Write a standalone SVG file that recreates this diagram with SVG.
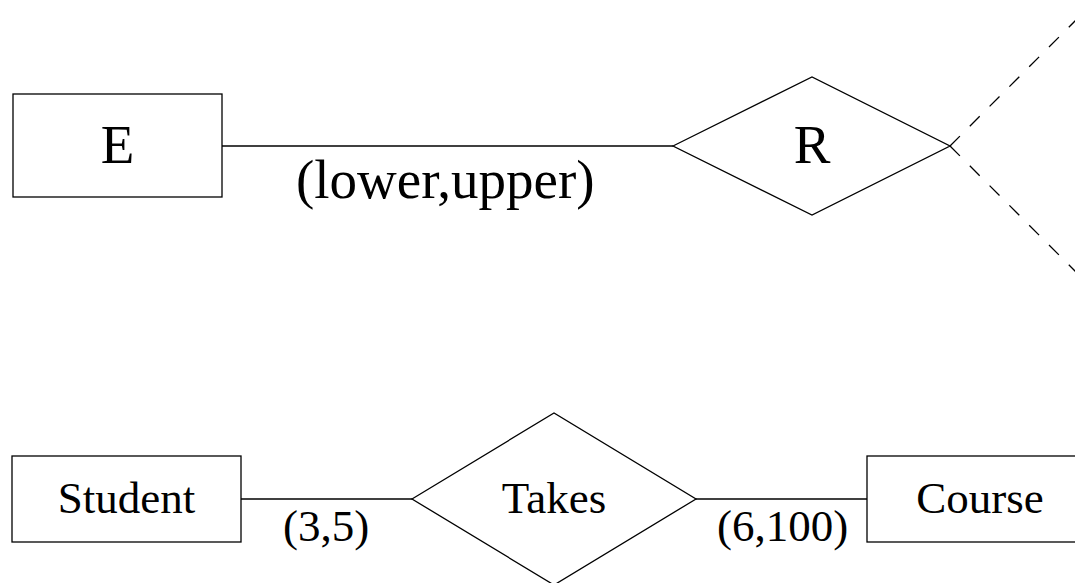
<svg xmlns="http://www.w3.org/2000/svg" width="1075" height="583" viewBox="0 0 1075 583">
  <style>
    .shape { fill: #ffffff; stroke: #000000; stroke-width: 1.3; }
    .link { fill: none; stroke: #000000; stroke-width: 1.3; }
    .dash { fill: none; stroke: #000000; stroke-width: 1.3; stroke-dasharray: 14 14; }
    .big { font-family: "Liberation Serif", "Times New Roman", serif; font-size: 55px; fill: #000000; }
    .small { font-family: "Liberation Serif", "Times New Roman", serif; font-size: 45px; fill: #000000; }
  </style>
  <rect width="1075" height="583" fill="#ffffff"/>

  <!-- connectors -->
  <g id="connectors">
    <line class="link" x1="222" y1="146" x2="673" y2="146"/>
    <line class="dash" x1="950" y1="146" x2="1085" y2="11"/>
    <line class="dash" x1="950" y1="146" x2="1085" y2="281"/>
    <line class="link" x1="241" y1="499" x2="412" y2="499"/>
    <line class="link" x1="696" y1="499" x2="867" y2="499"/>
    <text class="big" x="296" y="198">(lower,upper)</text>
    <text class="small" x="283" y="541">(3,5)</text>
    <text class="small" x="717" y="541">(6,100)</text>
  </g>

  <!-- entity E -->
  <g id="node-E">
    <rect class="shape" x="13" y="94" width="209" height="103"/>
    <text class="big" x="117.5" y="163" text-anchor="middle">E</text>
  </g>

  <!-- relationship R -->
  <g id="node-R">
    <polygon class="shape" points="673,146 812,77 950,146 812,215"/>
    <text class="big" x="812" y="163" text-anchor="middle">R</text>
  </g>

  <!-- entity Student -->
  <g id="node-Student">
    <rect class="shape" x="12" y="456" width="229" height="86"/>
    <text class="small" x="126.5" y="513" text-anchor="middle">Student</text>
  </g>

  <!-- relationship Takes -->
  <g id="node-Takes">
    <polygon class="shape" points="412,499 554,413 696,499 554,585"/>
    <text class="small" x="554" y="513" text-anchor="middle">Takes</text>
  </g>

  <!-- entity Course -->
  <g id="node-Course">
    <rect class="shape" x="867" y="456" width="229" height="86"/>
    <text class="small" x="980" y="513" text-anchor="middle">Course</text>
  </g>
</svg>
